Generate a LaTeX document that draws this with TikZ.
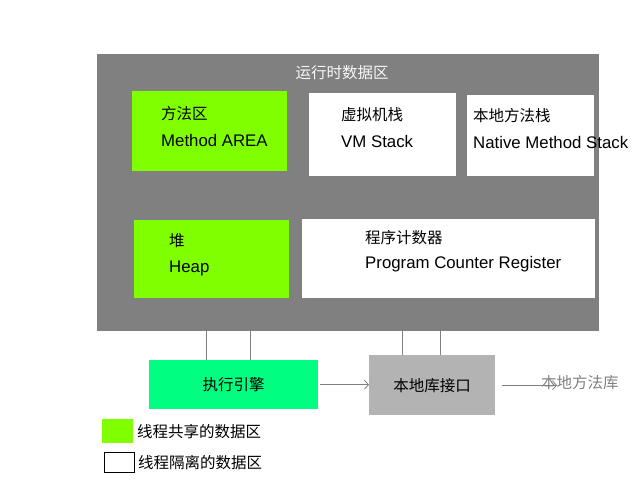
\documentclass[tikz,border=0pt]{standalone}
\usepackage{fontspec}
\setmainfont{Liberation Sans}
\newfontfamily\cjk{Noto Sans CJK SC}
\usetikzlibrary{arrows.meta}
\definecolor{shared}{HTML}{80FF00}
\definecolor{engcol}{HTML}{00FF80}
\definecolor{rdagray}{HTML}{808080}
\definecolor{jnigray}{HTML}{B3B3B3}
\tikzset{
  area/.style={rectangle, inner sep=0pt, anchor=north west},
  lbl/.style={anchor=west, inner sep=0pt, font=\fontsize{16.8}{19}\selectfont},
  cn/.style={lbl, font=\fontsize{15.5}{18}\selectfont\cjk},
  wire/.style={draw=rdagray, line width=0.8pt},
  arr/.style={wire, -{Straight Barb[length=4pt, width=9pt]}},
}
\begin{document}
\begin{tikzpicture}[x=1pt, y=-1pt]
    \useasboundingbox (0,0) rectangle (640,480);
    % Runtime data area
    \node[area, fill=rdagray, minimum width=502pt, minimum height=277pt] (rda) at (97,54) {};
    \node[cn, anchor=center, text=white!94!gray] (rdatitle) at (342,73) {运行时数据区};
    % Areas inside
    \node[area, fill=shared, minimum width=155pt, minimum height=80pt] (method) at (132,91) {};
    \node[area, fill=white, minimum width=147pt, minimum height=83pt] (vmstack) at (309,93) {};
    \node[area, fill=white, minimum width=127pt, minimum height=81pt] (nstack) at (467,95) {};
    \node[area, fill=shared, minimum width=155pt, minimum height=78pt] (heap) at (134,220) {};
    \node[area, fill=white, minimum width=293pt, minimum height=79pt] (pcr) at (302,219) {};
    % Labels
    \node[cn] (methodcn) at (161,114) {方法区};
    \node[lbl] (methoden) at (161,140) {Method AREA};
    \node[cn] (vmcn) at (341,115) {虚拟机栈};
    \node[lbl] (vmen) at (341,141) {VM Stack};
    \node[cn] (nscn) at (473,116) {本地方法栈};
    \node[lbl] (nsen) at (473,142) {Native Method Stack};
    \node[cn] (heapcn) at (169,241) {堆};
    \node[lbl] (heapen) at (169,268) {Heap};
    \node[cn] (pcrcn) at (365,238) {程序计数器};
    \node[lbl] (pcren) at (365,264) {Program Counter Register};
    % Engine and native interface
    \node[area, fill=engcol, minimum width=169pt, minimum height=49pt] (engine) at (149,360) {};
    \node[cn, anchor=center] (enginetxt) at (engine.center) {执行引擎};
    \node[area, fill=jnigray, minimum width=126pt, minimum height=60pt] (jni) at (369,355) {};
    \node[cn, anchor=center] (jnitxt) at (jni.center) {本地库接口};
    \node[cn, text=rdagray] (nlib) at (541,383) {本地方法库};
    % Links
    \foreach \dx in {-27.5, 16.5} {
        \draw[wire] ([xshift=\dx pt]engine.north) -- ([xshift=\dx pt]engine.north |- rda.south);
    }
    \foreach \dx in {-30, 8} {
        \draw[wire] ([xshift=\dx pt]jni.north) -- ([xshift=\dx pt]jni.north |- rda.south);
    }
    \draw[arr] ([xshift=2pt]engine.east) -- (engine.east -| jni.west);
    \draw[arr] ([xshift=7pt]jni.east) -- ([xshift=16pt]jni.east -| nlib.west);
    % Legend
    \node[area, fill=shared, minimum width=31pt, minimum height=24pt] (keyshared) at (102,419) {};
    \node[cn] (keysharedtxt) at (137,432) {线程共享的数据区};
    \node[area, draw=black, fill=white, minimum width=30pt, minimum height=20pt] (keyown) at (104,452) {};
    \node[cn] (keyowntxt) at (138,463) {线程隔离的数据区};
\end{tikzpicture}
\end{document}
